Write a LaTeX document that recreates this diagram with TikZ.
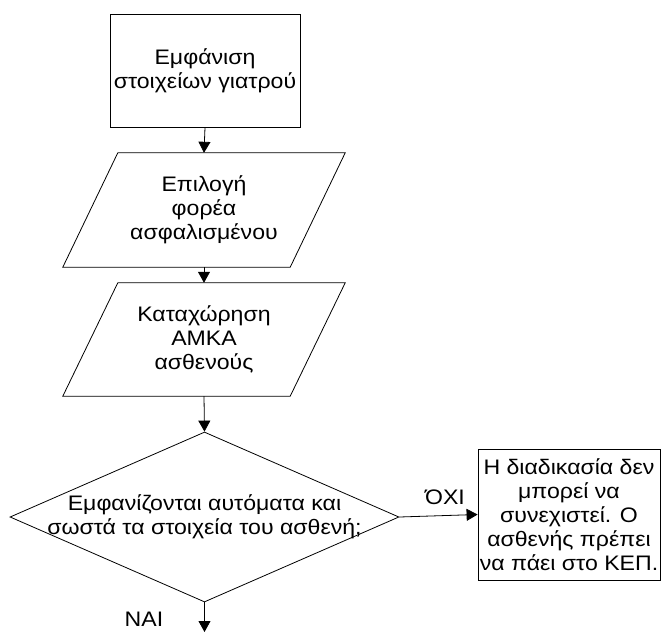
\documentclass[tikz,border=0pt]{standalone}
\usepackage{fontspec}
\setmainfont{Liberation Sans}[FakeStretch=1.1]
\usetikzlibrary{arrows.meta,shapes.geometric,calc}
\begin{document}
\begin{tikzpicture}[x=1pt,y=-1pt,
  every node/.style={font=\fontsize{21}{24}\selectfont, align=center},
  line/.style={line width=0.8pt, draw=black},
  arr/.style={line, -{Triangle[width=12pt,length=11pt]}},
  procbox/.style={rectangle, line, inner sep=0pt},
  iobox/.style={rectangle, draw=none, inner sep=0pt, minimum width=282pt, minimum height=114pt},
  decbox/.style={diamond, line, inner sep=0pt, aspect=2.29, minimum width=389pt, minimum height=170pt},
  lbl/.style={inner sep=0pt}]
\useasboundingbox (0,0) rectangle (661,632);

\node[procbox, minimum width=190pt, minimum height=113pt] (show) at (205,70.5)
  {Εμφάνιση\\στοιχείων γιατρού};

\node[iobox] (sel) at (204,210) {Επιλογή\\φορέα\\ασφαλισμένου};
\draw[line] ($(sel.north west)+(55,0)$) -- (sel.north east)
  -- ($(sel.south east)+(-55,0)$) -- (sel.south west) -- cycle;

\node[iobox, minimum height=113pt] (amka) at (204,339.5) {Καταχώρηση\\ΑΜΚΑ\\ασθενούς};
\draw[line] ($(amka.north west)+(55,0)$) -- (amka.north east)
  -- ($(amka.south east)+(-55,0)$) -- (amka.south west) -- cycle;

\node[decbox] (dec) at (204.5,517) {};
\node[lbl] (dectext) at (dec.center) {Εμφανίζονται αυτόματα και\\σωστά τα στοιχεία του ασθενή;};

\node[procbox, minimum width=182pt, minimum height=131pt] (stop) at (569,514.5)
  {Η διαδικασία δεν\\μπορεί να\\συνεχιστεί. Ο\\ασθενής πρέπει\\να πάει στο ΚΕΠ.};

\coordinate (end) at (204.5,632);

\draw[arr] (show.south) -- (sel.north);
\draw[arr] (sel.south) -- (amka.north);
\draw[arr] (amka.south) -- (dec.north);
\draw[arr] (dec.east) -- (stop.west);
\draw[arr] (dec.south) -- (end);

\node[lbl] (no) at (445,497) {ΌΧΙ};
\node[lbl] (yes) at (144,619) {ΝΑΙ};
\end{tikzpicture}
\end{document}
